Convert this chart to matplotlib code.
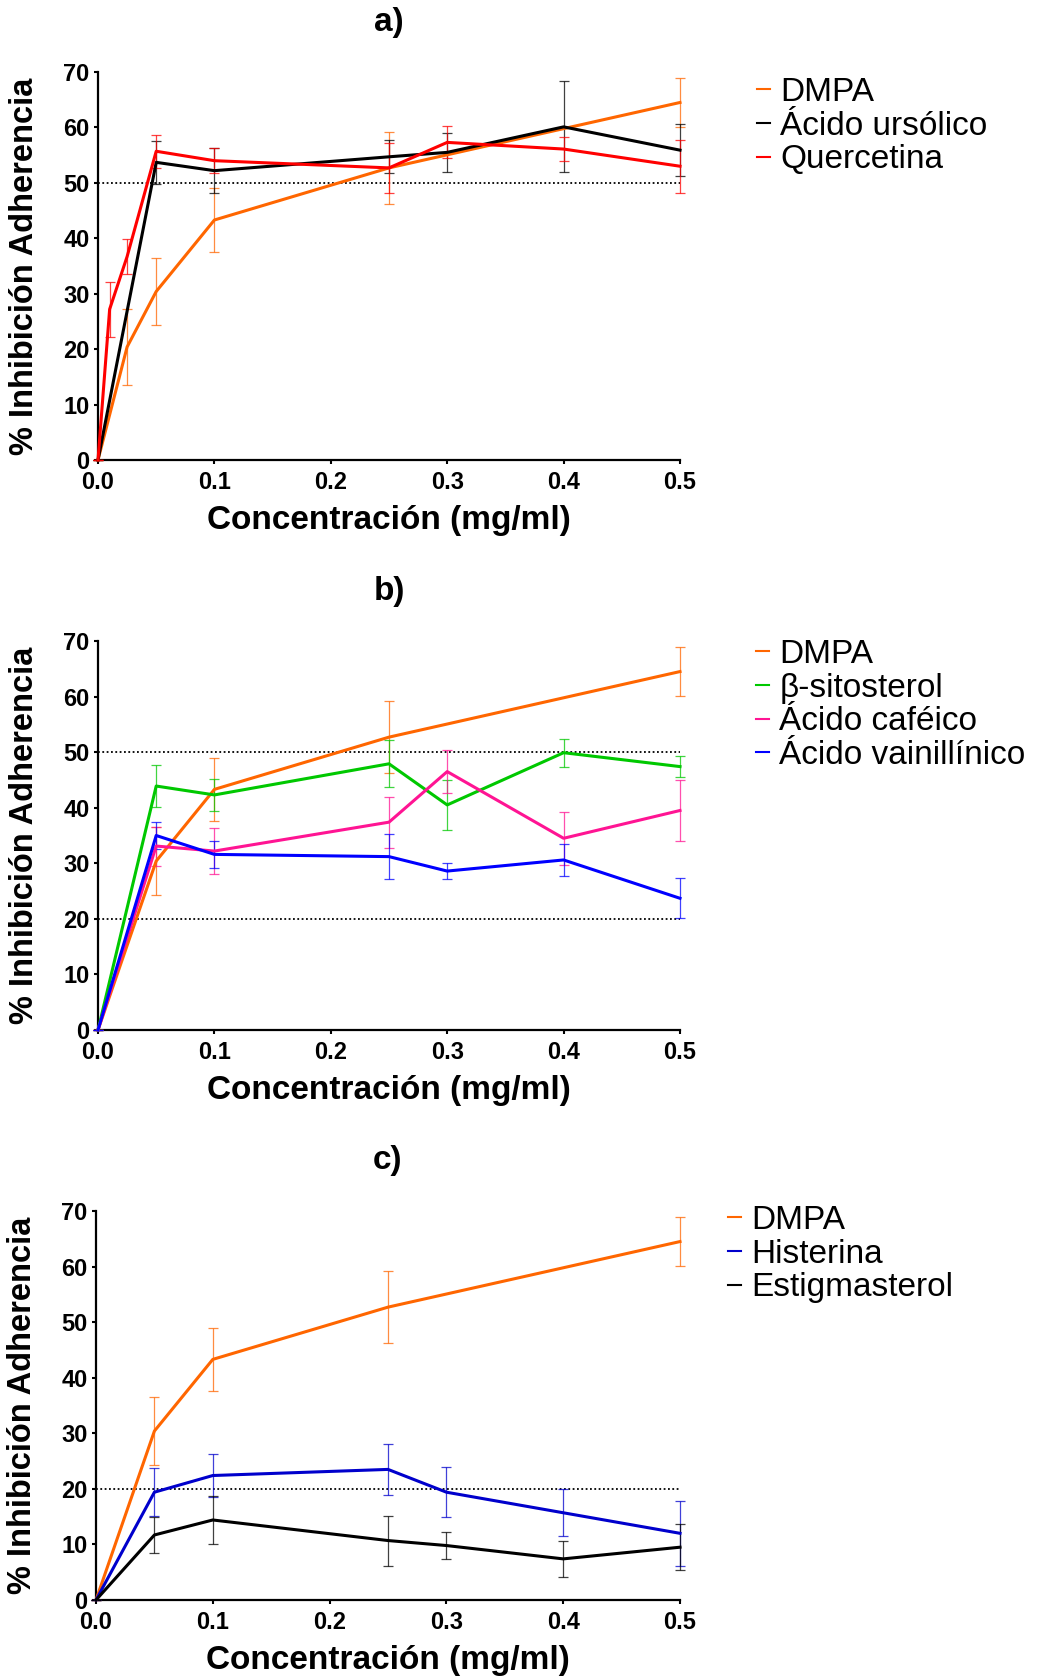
import matplotlib
matplotlib.use("Agg")
import matplotlib.pyplot as plt
from matplotlib.lines import Line2D

plt.rcParams["font.family"] = ["Liberation Sans", "DejaVu Sans"]

# concentrations (mg/ml)
conc = [0, 0.05, 0.1, 0.25, 0.3, 0.4, 0.5]
conc_dmpa_a = [0, 0.025, 0.05, 0.1, 0.25, 0.5]
conc_dmpa = [0, 0.05, 0.1, 0.25, 0.5]
conc_querc = [0, 0.01, 0.025, 0.05, 0.1, 0.25, 0.3, 0.4, 0.5]

# panel a
dmpa_a = [0, 20.4, 30.4, 43.3, 52.7, 64.5]
dmpa_a_err = [0, 6.9, 6.1, 5.8, 6.5, 4.4]
ursolico = [0, 53.7, 52.2, 54.7, 55.5, 60.1, 55.9]
ursolico_err = [0, 3.9, 4.0, 3.0, 3.5, 8.2, 4.7]
quercetina = [0, 27.2, 36.7, 55.7, 54.0, 52.7, 57.3, 56.1, 53.0]
quercetina_err = [0, 5.0, 3.2, 3.0, 2.2, 4.5, 2.9, 2.2, 4.8]

# panels b and c
dmpa = [0, 30.4, 43.3, 52.7, 64.5]
dmpa_err = [0, 6.1, 5.7, 6.5, 4.4]
sitosterol = [0, 43.9, 42.3, 47.9, 40.5, 49.9, 47.4]
sitosterol_err = [0, 3.7, 2.9, 4.2, 4.5, 2.5, 1.9]
cafeico = [0, 33.1, 32.2, 37.4, 46.5, 34.5, 39.5]
cafeico_err = [0, 3.5, 4.1, 4.6, 3.9, 4.8, 5.5]
vainillinico = [0, 35.0, 31.6, 31.2, 28.6, 30.6, 23.7]
vainillinico_err = [0, 2.5, 2.5, 4.1, 1.4, 2.8, 3.6]
histerina = [0, 19.4, 22.4, 23.5, 19.4, 15.7, 12.0]
histerina_err = [0, 4.3, 3.8, 4.6, 4.5, 4.25, 5.8]
estigmasterol = [0, 11.7, 14.4, 10.7, 9.8, 7.4, 9.5]
estigmasterol_err = [0, 3.2, 4.3, 4.5, 2.5, 3.3, 4.1]

ORANGE = "#ff6600"
RED = "#ff0000"
BLACK = "#000000"
GREEN = "#00c800"
PINK = "#ff1493"
BLUE = "#0000ff"
DBLUE = "#0000cc"

W, H = 1041, 1680
fig = plt.figure(figsize=(W / 100, H / 100), dpi=100)


def make_axes(left, top, bottom):
    ax = fig.add_axes([left / W, 1 - bottom / H, (680 - left) / W, (bottom - top) / H])
    ax.set_xlim(0, 0.5)
    ax.set_ylim(0, 70)
    ax.set_xticks([0, 0.1, 0.2, 0.3, 0.4, 0.5])
    ax.set_yticks(range(0, 71, 10))
    ax.set_xticklabels(["0.0", "0.1", "0.2", "0.3", "0.4", "0.5"])
    for s in ["top", "right"]:
        ax.spines[s].set_visible(False)
    for s in ["left", "bottom"]:
        ax.spines[s].set_linewidth(1.6)
    ax.tick_params(direction="out", length=3, width=1.5, labelsize=17)
    ax.tick_params(axis="x", pad=5)
    ax.tick_params(axis="y", pad=3)
    for lab in ax.get_xticklabels() + ax.get_yticklabels():
        lab.set_fontweight("bold")
    ax.set_xlabel("Concentración (mg/ml)", fontsize=24, fontweight="bold", labelpad=8)
    ax.set_ylabel("% Inhibición Adherencia", fontsize=23.5, fontweight="bold")
    ax.yaxis.set_label_coords(-0.10, 0.5)
    return ax


def series(ax, x, y, err, color):
    cont = ax.errorbar(x, y, yerr=err, color=color, lw=2.2, elinewidth=0.9, capsize=3.5,
                       capthick=0.9, ecolor=color, clip_on=False, zorder=3)
    for art in cont[1] + cont[2]:
        art.set_alpha(0.75)


def legend(ax, labels, colors, x, y):
    handles = [Line2D([], [], color=c, lw=1.5) for c in colors]
    ax.legend(handles, labels, loc="upper left", bbox_to_anchor=(x / W, 1 - y / H),
              bbox_transform=fig.transFigure, frameon=False, fontsize=24,
              handlelength=0.4, handletextpad=0.3, labelspacing=0.08, borderpad=0,
              borderaxespad=0)


def dotted(ax, level):
    ax.axhline(level, color="black", lw=1.3, ls=(0, (1, 1.4)), zorder=1)


# a)
ax1 = make_axes(98, 72, 460)
dotted(ax1, 50)
series(ax1, conc_dmpa_a, dmpa_a, dmpa_a_err, ORANGE)
series(ax1, conc, ursolico, ursolico_err, BLACK)
series(ax1, conc_querc, quercetina, quercetina_err, RED)
fig.text(389 / W, 1 - 23 / H, "a)", ha="center", va="center", fontsize=24, fontweight="bold")
legend(ax1, ["DMPA", "Ácido ursólico", "Quercetina"], [ORANGE, BLACK, RED], 757, 77)

# b)
ax2 = make_axes(98, 641, 1030)
dotted(ax2, 50)
dotted(ax2, 20)
series(ax2, conc_dmpa, dmpa, dmpa_err, ORANGE)
series(ax2, conc, sitosterol, sitosterol_err, GREEN)
series(ax2, conc, cafeico, cafeico_err, PINK)
series(ax2, conc, vainillinico, vainillinico_err, BLUE)
fig.text(389 / W, 1 - 591 / H, "b)", ha="center", va="center", fontsize=24, fontweight="bold")
legend(ax2, ["DMPA", "β-sitosterol", "Ácido caféico", "Ácido vainillínico"],
       [ORANGE, GREEN, PINK, BLUE], 756, 639)

# c)
ax3 = make_axes(96, 1211, 1600)
dotted(ax3, 20)
series(ax3, conc_dmpa, dmpa, dmpa_err, ORANGE)
series(ax3, conc, histerina, histerina_err, DBLUE)
series(ax3, conc, estigmasterol, estigmasterol_err, BLACK)
fig.text(388 / W, 1 - 1160 / H, "c)", ha="center", va="center", fontsize=24, fontweight="bold")
legend(ax3, ["DMPA", "Histerina", "Estigmasterol"], [ORANGE, DBLUE, BLACK], 728, 1205)

fig.savefig("out.png", dpi=100)
